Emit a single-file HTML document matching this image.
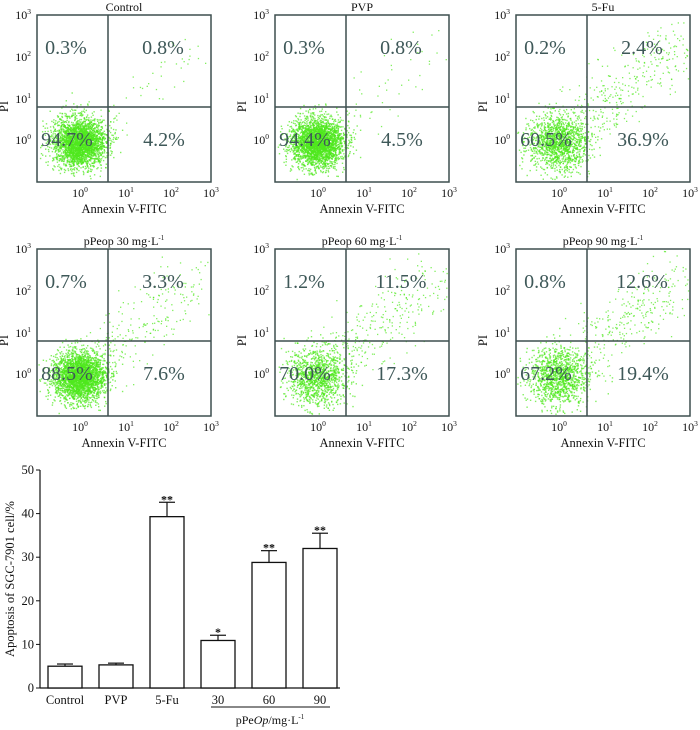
<!DOCTYPE html>
<html><head><meta charset="utf-8">
<style>
html,body{margin:0;padding:0;background:#fff;}
body{width:700px;height:730px;overflow:hidden;font-family:"Liberation Serif",serif;}
svg{display:block}
</style></head>
<body>
<svg id="fig" width="700" height="730" viewBox="0 0 700 730" xmlns="http://www.w3.org/2000/svg" font-family="Liberation Serif, serif">
  <g id="flow"></g>
  <g id="bar"></g>
</svg>
<script>
// ---- Flow cytometry panel data ----
const panelTitles = ["Control","PVP","5-Fu","pPeop 30 mg·L","pPeop  60 mg·L","pPeop  90 mg·L"];
const q1Values = ["0.3%","0.3%","0.2%","0.7%","1.2%","0.8%"];
const q2Values = ["0.8%","0.8%","2.4%","3.3%","11.5%","12.6%"];
const q3Values = ["94.7%","94.4%","60.5%","88.5%","70.0%","67.2%"];
const q4Values = ["4.2%","4.5%","36.9%","7.6%","17.3%","19.4%"];
const clusterCounts = [2800,2800,1400,2800,1200,1200];
const tailCounts = [50,50,330,220,300,330];

// ---- Bar chart data ----
const barCategories = ["Control","PVP","5-Fu","30","60","90"];
const barValues = [5.0,5.3,39.3,10.9,28.8,32.0];
const barErrors = [0.5,0.4,3.3,1.2,2.7,3.5];
const barStars = ["","","**","*","**","**"];
const yTicks = [0,10,20,30,40,50];

const NS="http://www.w3.org/2000/svg";
function mk(tag,attrs,parent,text){const e=document.createElementNS(NS,tag);for(const k in attrs)e.setAttribute(k,attrs[k]);if(text!==undefined)e.textContent=text;parent.appendChild(e);return e;}

// deterministic PRNG for scatter texture
let seed=12345;
function rnd(){seed=(seed*1103515245+12345)&0x7fffffff;return seed/0x7fffffff;}
function gauss(){let u=rnd()||1e-6,v=rnd();return Math.sqrt(-2*Math.log(u))*Math.cos(2*Math.PI*v);}

const flow=document.getElementById('flow');
const colX=[37,275,516], rowY=[15,249];
const W=174,H=167, QX=71, QY=92;
const xtickRel=[43,89,134,174], ytickRel=[0,42,84,125];
for(let i=0;i<6;i++){
  const ox=colX[i%3], oy=rowY[Math.floor(i/3)];
  const g=mk('g',{},flow);
  
  
  const t=mk('text',{x:ox+W/2,y:oy-4,'text-anchor':'middle','font-size':'12',fill:'#111'},g,panelTitles[i]);
  
  
  if(i>=3){mk('tspan',{dy:'-5','font-size':'7'},t,'-1');}
  const dots=mk('g',{fill:'#4fe81c'},g);
  
  
  const cx=ox+42, cy=oy+127;
  const spread = i===2||i>=4 ? 15 : 13;
  for(let k=0;k<clusterCounts[i];k++){
    const x=cx+gauss()*spread, y=cy+gauss()*spread*0.95;
    if(x<ox+1||x>ox+W-2||y<oy+1||y>oy+H-2)continue;
    mk('rect',{x:x.toFixed(1),y:y.toFixed(1),width:1.4,height:1.4,opacity:0.7},dots);
  }
  for(let k=0;k<tailCounts[i];k++){
    const t2=rnd();
    const x=ox+55+t2*110+gauss()*14, y=oy+112-t2*85+gauss()*16;
    if(x<ox+1||x>ox+W-2||y<oy+1||y>oy+H-2)continue;
    mk('rect',{x:x.toFixed(1),y:y.toFixed(1),width:1.3,height:1.3,opacity:0.7},dots);
  }
  const box=mk('rect',{x:ox,y:oy,width:W,height:H,fill:'none',stroke:'#3d4f4f','stroke-width':1.5},g);
  
  
  const vl=mk('line',{x1:ox+QX,y1:oy,x2:ox+QX,y2:oy+H,stroke:'#3d4f4f','stroke-width':1.5},g);
  
  
  const hl=mk('line',{x1:ox,y1:oy+QY,x2:ox+W,y2:oy+QY,stroke:'#3d4f4f','stroke-width':1.5},g);
  
  
  const qs=[[q1Values[i],29,39],[q2Values[i],126,39],[q3Values[i],30,131],[q4Values[i],127,131]];
  const qn=['q1-percent','q2-percent','q3-percent','q4-percent'];
  qs.forEach((q,j)=>{
    const e=mk('text',{x:ox+q[1],y:oy+q[2],'text-anchor':'middle','font-size':'20',fill:'#3e5858'},g,q[0]);
    
    
  });
  for(let d=0;d<4;d++){
    const e=mk('text',{x:ox+xtickRel[d],y:oy+H+15,'text-anchor':'middle','font-size':'12',fill:'#111'},g,'10');
    mk('tspan',{dy:'-5','font-size':'7.5'},e,String(d));
    
    
  }
  for(let d=0;d<4;d++){
    const e=mk('text',{x:ox-6,y:oy+ytickRel[d]+4,'text-anchor':'end','font-size':'12',fill:'#111'},g,'10');
    mk('tspan',{dy:'-5','font-size':'7.5'},e,String(3-d));
    
    
  }
  const xl=mk('text',{x:ox+W/2,y:oy+H+31,'text-anchor':'middle','font-size':'12.5',fill:'#111'},g,'Annexin V-FITC');
  
  
  const yl=mk('text',{x:0,y:0,'text-anchor':'middle','font-size':'12.5',fill:'#111',transform:`translate(${ox-29},${oy+H/2+8}) rotate(-90)`},g,'PI');
  
  
}

// ---- Bar chart ----
const bar=document.getElementById('bar');
const X0=40, Y0=688, pxPerUnit=(688-470)/50, pitch=51, firstX=48, bw=34;
const ys=v=>Y0-v*pxPerUnit;
const xs=i=>firstX+i*pitch;
const ax=mk('line',{x1:X0,y1:ys(50),x2:X0,y2:Y0,stroke:'#111','stroke-width':1.2},bar);


const bx=mk('line',{x1:X0,y1:Y0,x2:340,y2:Y0,stroke:'#111','stroke-width':1.2},bar);


yTicks.forEach(v=>{
  mk('line',{x1:X0-4,y1:ys(v),x2:X0,y2:ys(v),stroke:'#111','stroke-width':1},bar);
  const e=mk('text',{x:X0-6,y:ys(v)+4,'text-anchor':'end','font-size':'12.5',fill:'#111'},bar,String(v));
  
  
});
barCategories.forEach((c,i)=>{
  const x=xs(i), v=barValues[i], err=barErrors[i];
  const r=mk('rect',{x:x,y:ys(v),width:bw,height:Y0-ys(v),fill:'#fff',stroke:'#111','stroke-width':1.3},bar);
  
  
  const mx=x+bw/2;
  const el=mk('line',{x1:mx,y1:ys(v),x2:mx,y2:ys(v+err),stroke:'#111','stroke-width':1.2},bar);
  
  
  mk('line',{x1:mx-8,y1:ys(v+err),x2:mx+8,y2:ys(v+err),stroke:'#111','stroke-width':1.2},bar);
  if(barStars[i]){
    const s=mk('text',{x:mx,y:ys(v+err)+1,'text-anchor':'middle','font-size':'12','font-weight':'bold',fill:'#111'},bar,barStars[i]);
    
    
  }
  const l=mk('text',{x:mx,y:Y0+16,'text-anchor':'middle','font-size':'12.5',fill:'#111'},bar,c);
  
  
});
const ul=mk('line',{x1:211,y1:707,x2:330,y2:707,stroke:'#111','stroke-width':1},bar);


const gl=mk('text',{x:270,y:724,'text-anchor':'middle','font-size':'12',fill:'#111'},bar);


gl.appendChild(document.createTextNode('pPe'));
mk('tspan',{'font-style':'italic'},gl,'Op');
gl.appendChild(document.createTextNode('/mg·L'));
mk('tspan',{dy:'-5','font-size':'7'},gl,'-1');
const yt=mk('text',{x:0,y:0,'text-anchor':'middle','font-size':'12.5',fill:'#111',transform:'translate(14,579) rotate(-90)'},bar,'Apoptosis of SGC-7901 cell/%');


</script>
</body></html>
